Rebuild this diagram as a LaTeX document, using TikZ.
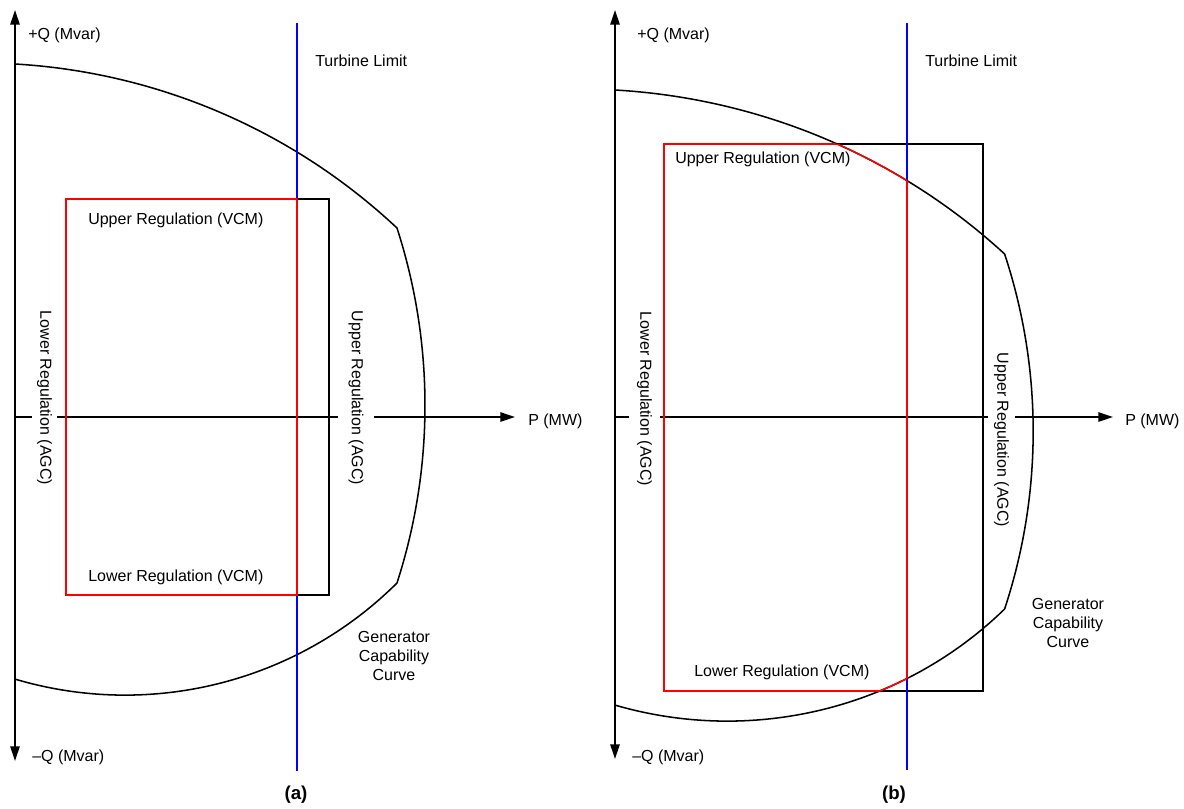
\documentclass[tikz,border=0pt]{standalone}
\usepackage{fontspec}
\setmainfont{Liberation Sans}
\usetikzlibrary{arrows.meta}
\newcommand{\capA}{(15,-64) arc[start angle=86.67,end angle=46.86,radius=610.5] arc[start angle=17.93,end angle=-17.93,radius=576.6] arc[start angle=-45.2,end angle=-106.56,radius=386]}
\newcommand{\capB}{(615,-90) arc[start angle=86.67,end angle=46.86,x radius=622.7,y radius=610.5] arc[start angle=17.93,end angle=-17.93,x radius=588.1,y radius=576.6] arc[start angle=-45.2,end angle=-106.56,x radius=393.7,y radius=386]}
\begin{document}
\begin{tikzpicture}[x=0.75pt,y=0.75pt,
  every node/.style={inner sep=0pt,font=\fontsize{12}{14.6}\selectfont},
  axisline/.style={line width=1.3pt,black},
  qaxis/.style={axisline,{Triangle[length=11pt,width=7pt]}-{Triangle[length=11pt,width=7pt]}},
  paxis/.style={axisline,-{Triangle[length=11pt,width=7pt]}},
  capcurve/.style={line width=1.15pt,black},
  agcbox/.style={line width=1.15pt,black},
  vcmbox/.style={line width=1.15pt,red},
  turbine/.style={line width=1.1pt,blue},
  agclabel/.style={rotate=-90,fill=white},
  lbl/.style={anchor=west},
  panel/.style={font=\fontsize{14}{16}\selectfont\bfseries}]
\useasboundingbox (0,0) rectangle (1184,-808);

% ---------------- panel (a) ----------------
\coordinate (aQtop) at (15,-10);
\coordinate (aQbot) at (15,-761);
\coordinate (aO) at (15,-417);
\coordinate (aPend) at (515,-417);
\draw[qaxis] (aQbot) -- (aQtop);
\draw[paxis] (aO) -- (aPend);
\draw[capcurve] \capA;
\draw[agcbox] (66,-199) rectangle (329,-595);
\coordinate (aTtop) at (297,-23);
\coordinate (aTbot) at (297,-771);
\draw[turbine] (aTtop) -- (aTbot);
\draw[vcmbox] (66,-199) rectangle (297,-595);

\node[lbl] (aqp) at (28,-35) {+Q (Mvar)};
\node[lbl] (aqm) at (32,-757) {–Q (Mvar)};
\node[lbl] (atl) at (315,-61) {Turbine Limit};
\node[lbl] (auv) at (88,-220) {Upper Regulation (VCM)};
\node[lbl] (alv) at (88,-577) {Lower Regulation (VCM)};
\node[lbl] (ap) at (528,-421) {P (MW)};
\node[align=center] (agc) at (394,-656) {Generator\\Capability\\Curve};
\node[agclabel,inner ysep=4pt] (ala) at (44.5,-398) {Lower Regulation (AGC)};
\node[agclabel,inner ysep=7.6pt] (aua) at (356,-398) {Upper Regulation (AGC)};
\node[panel] (alab) at (296,-795) {(a)};

% ---------------- panel (b) ----------------
\coordinate (bQtop) at (615,-10);
\coordinate (bQbot) at (615,-759);
\coordinate (bO) at (615,-417);
\coordinate (bPend) at (1113,-417);
\draw[qaxis] (bQbot) -- (bQtop);
\draw[paxis] (bO) -- (bPend);
\draw[agcbox] (664,-144) rectangle (983,-691);
\coordinate (bTtop) at (907,-23);
\coordinate (bTbot) at (907,-770);
\draw[turbine] (bTtop) -- (bTbot);
\draw[capcurve] \capB;
\begin{scope}
  \clip \capB -- cycle;
  \draw[vcmbox] (664,-144) rectangle (907,-691);
\end{scope}
\begin{scope}
  \clip (664,-144) rectangle (907,-691);
  \draw[vcmbox] \capB;
\end{scope}

\node[lbl] (bqp) at (637,-35) {+Q (Mvar)};
\node[lbl] (bqm) at (632,-757) {–Q (Mvar)};
\node[lbl] (btl) at (925,-61) {Turbine Limit};
\node[lbl] (buv) at (675,-159) {Upper Regulation (VCM)};
\node[lbl] (blv) at (694,-672) {Lower Regulation (VCM)};
\node[lbl] (bp) at (1125,-421) {P (MW)};
\node[align=center] (bgc) at (1068,-623) {Generator\\Capability\\Curve};
\node[agclabel,inner ysep=6pt] (bla) at (644.5,-399) {Lower Regulation (AGC)};
\node[agclabel,inner ysep=4.4pt] (bua) at (1001.5,-440) {Upper Regulation (AGC)};
\node[panel] (blab) at (894,-795) {(b)};
\end{tikzpicture}
\end{document}
